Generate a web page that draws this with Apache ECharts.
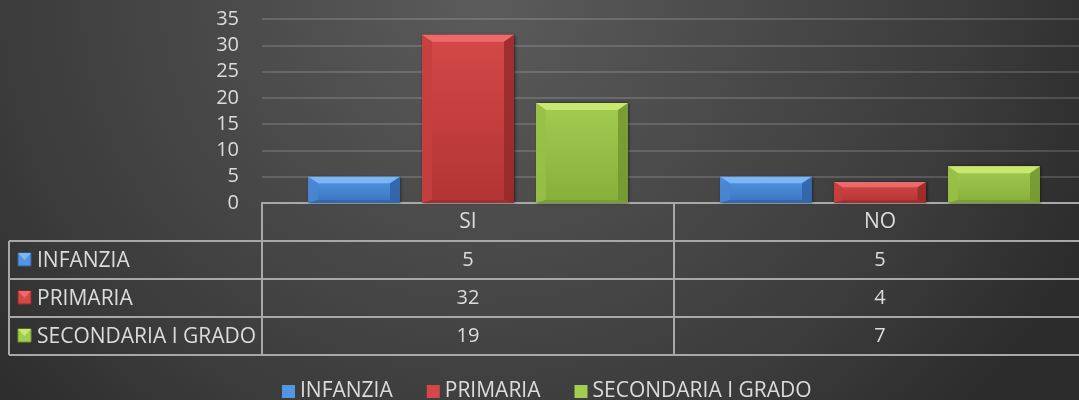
<!DOCTYPE html>
<html>
<head>
<meta charset="utf-8">
<script src="https://cdn.jsdelivr.net/npm/echarts@6/dist/echarts.min.js"></script>
<style>
html, body { margin: 0; padding: 0; background: #2c2c2c; }
#chart {
    width: 1079px; height: 400px;
    background: radial-gradient(650px 605px at 485px 0px, #5b5b5b 0%, #3b3b3b 75%, #2c2c2c 100%);
}
</style>
</head>
<body>
<div id="chart"></div>
<script>
    const categories = ['SI', 'NO'];
    const seriesNames = ['INFANZIA', 'PRIMARIA', 'SECONDARIA I GRADO'];
    const infanzia = [5, 5];
    const primaria = [32, 4];
    const secondaria = [19, 7];
    const yMin = 0, yMax = 35, yStep = 5;

    const seriesValues = [infanzia, primaria, secondaria];
    /*face / bevel colours per series*/
    const palette = [
        {main: '#5495e2', low: '#3b74c0', top: '#7bb6f5', left: '#4a86d0', right: '#2f63a4', bottom: '#3468ae'},
        {main: '#d54848', low: '#b23434', top: '#ec6a6a', left: '#c63f3f', right: '#962a2a', bottom: '#a22f2f'},
        {main: '#a3cc52', low: '#88ae3b', top: '#c8e870', left: '#98c047', right: '#739630', bottom: '#7c9f33'}
    ];

    const font = '"Open Sans", "Noto Sans", sans-serif';
    const textColor = '#dcdcdc';
    const lineColor = '#a8a8a8';
    const gridLeft = 262, gridTop = 19, axisY = 203, rowH = 38, tableLeft = 9;
    const plotWidth = 824;

    const chart = echarts.init(document.getElementById('chart'), null, {renderer: 'canvas'});

    function bevelBar(idx) {
        const c = palette[idx];
        return function (params, api) {
            const base = api.coord([api.value(0), 0]);
            const top = api.coord([api.value(0), api.value(1)]);
            const band = api.size([1, 0])[0];
            const w = band * 0.2233;
            const cx = base[0] + (idx - 1) * band * 0.2767;
            const x0 = cx - w / 2, x1 = cx + w / 2;
            const y0 = top[1], y1 = base[1];
            const h = y1 - y0;
            const s = Math.min(10, h / 2.5);   /*side bevel*/
            const t = Math.min(7, h / 4);      /*top bevel*/
            const d = Math.min(3, h / 8);      /*bottom bevel*/
            return {
                type: 'group',
                children: [
                    {type: 'rect', shape: {x: x0, y: y0, width: w, height: h},
                        style: {fill: {type: 'linear', x: 0, y: 0, x2: 0, y2: 1,
                            colorStops: [{offset: 0, color: c.main}, {offset: 1, color: c.low}]},
                            shadowBlur: 3, shadowColor: 'rgba(0,0,0,0.6)', shadowOffsetX: 1}},
                    {type: 'polygon', shape: {points: [[x0, y0], [x1, y0], [x1 - s, y0 + t], [x0 + s, y0 + t]]},
                        style: {fill: c.top}},
                    {type: 'polygon', shape: {points: [[x0, y0], [x0 + s, y0 + t], [x0 + s, y1 - d], [x0, y1]]},
                        style: {fill: c.left, opacity: 0.85}},
                    {type: 'polygon', shape: {points: [[x1, y0], [x1 - s, y0 + t], [x1 - s, y1 - d], [x1, y1]]},
                        style: {fill: c.right, opacity: 0.85}},
                    {type: 'polygon', shape: {points: [[x0, y1], [x0 + s, y1 - d], [x1 - s, y1 - d], [x1, y1]]},
                        style: {fill: c.bottom}}
                ]
            };
        };
    }

    /*x axes: the category row plus one row per series for the data table*/
    const xAxes = [{
        type: 'category', data: categories, position: 'bottom', offset: 0
    }];
    seriesValues.forEach(function (vals, i) {
        xAxes.push({type: 'category', data: vals.map(String), position: 'bottom', offset: rowH * (i + 1)});
    });
    xAxes.forEach(function (ax, i) {
        ax.axisLine = {show: true, lineStyle: {color: lineColor, width: 2}};
        ax.axisTick = {show: true, length: rowH, lineStyle: {color: lineColor, width: 2}};
        ax.axisLabel = {color: textColor, fontFamily: font, fontSize: i === 0 ? 21 : 20,
            verticalAlign: 'middle', margin: rowH / 2};
        ax.splitLine = {show: false};
    });
    xAxes.push({
        type: 'category', data: categories, position: 'bottom', offset: rowH * 4,
        axisLine: {show: true, lineStyle: {color: lineColor, width: 2}},
        axisTick: {show: false}, axisLabel: {show: false}
    });

    /*left side of the table: row names with their markers*/
    const graphics = [
        {type: 'line', shape: {x1: tableLeft, y1: axisY + rowH, x2: tableLeft, y2: axisY + rowH * 4},
            style: {stroke: lineColor, lineWidth: 2}}
    ];
    for (let r = 1; r <= 4; r++) {
        graphics.push({type: 'line', shape: {x1: tableLeft, y1: axisY + rowH * r, x2: gridLeft, y2: axisY + rowH * r},
            style: {stroke: lineColor, lineWidth: 2}});
    }
    seriesNames.forEach(function (name, i) {
        const cy = axisY + rowH * (i + 1) + rowH / 2;
        graphics.push({type: 'rect', shape: {x: 18, y: cy - 7, width: 13, height: 13},
            style: {fill: palette[i].main, stroke: palette[i].right, lineWidth: 1}});
        graphics.push({type: 'polygon', shape: {points: [[18, cy - 7], [31, cy - 7], [24.5, cy]]},
            style: {fill: palette[i].top}});
        graphics.push({type: 'text', x: 37, y: cy + 1,
            style: {text: name, fill: textColor, font: '21px ' + font, verticalAlign: 'middle'}});
    });

    chart.setOption({
        animation: false,
        backgroundColor: 'transparent',
        grid: {left: gridLeft, width: plotWidth, top: gridTop, bottom: 400 - axisY,
            outerBoundsMode: 'none', containLabel: false},
        legend: {
            data: seriesNames,
            left: 277, top: 376,
            itemGap: 34, itemWidth: 13, itemHeight: 13,
            icon: 'rect',
            textStyle: {color: textColor, fontFamily: font, fontSize: 21}
        },
        xAxis: xAxes,
        yAxis: {
            type: 'value', min: yMin, max: yMax, interval: yStep,
            axisLine: {show: false}, axisTick: {show: false},
            axisLabel: {color: textColor, fontFamily: font, fontSize: 20, margin: 23},
            splitLine: {lineStyle: {color: 'rgba(255,255,255,0.15)', width: 2}}
        },
        graphic: graphics,
        series: seriesNames.map(function (name, i) {
            return {
                name: name,
                type: 'custom',
                xAxisIndex: 0,
                itemStyle: {color: palette[i].main},
                encode: {x: 0, y: 1},
                renderItem: bevelBar(i),
                data: seriesValues[i].map(function (v, k) { return [k, v]; })
            };
        })
    });
</script>
</body>
</html>
